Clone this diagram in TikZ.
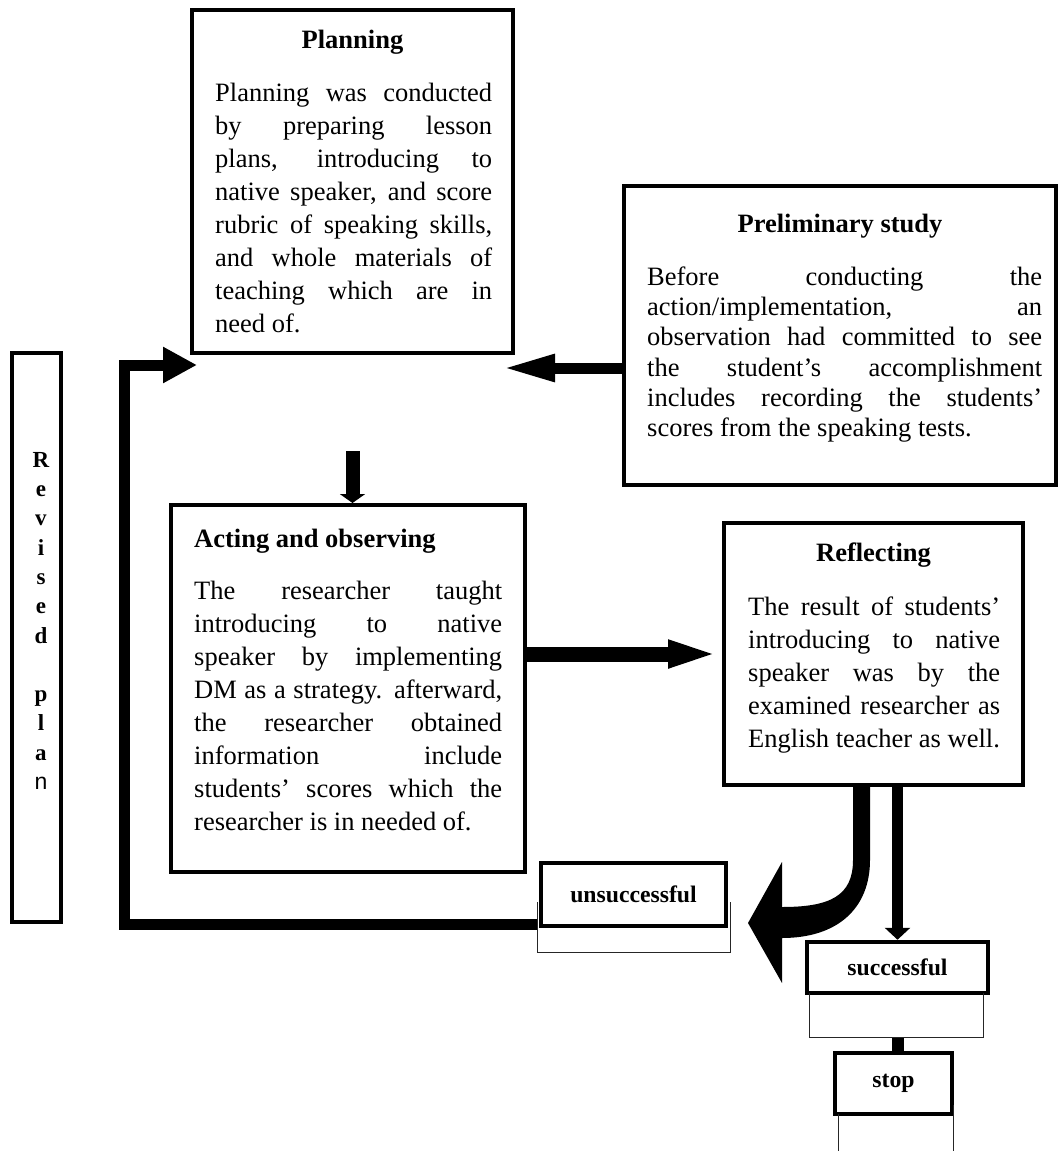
\documentclass[tikz,border=0pt]{standalone}
\usepackage{fontspec}
\setmainfont{Liberation Serif}
\setsansfont{Liberation Sans}
\usetikzlibrary{arrows.meta}
\newcommand\jline[2]{\makebox[#1][s]{\strut #2}}
\begin{document}
\begin{tikzpicture}[x=1pt,y=-1pt,
  stage/.style={draw, line width=4pt, inner sep=0pt, rectangle},
  lblbox/.style={draw, line width=4.5pt, inner sep=0pt, rectangle, font=\bfseries\fontsize{23.7}{28}\selectfont},
  bodytext/.style={inner sep=0pt, anchor=north west, align=left, font=\fontsize{26.5}{33}\selectfont},
  titletext/.style={inner sep=0pt, anchor=base, font=\bfseries\fontsize{26.5}{33}\selectfont},
  flow/.style={line width=#1, line join=miter},
  thinline/.style={line width=1pt, black!85}
]
\useasboundingbox (0,0) rectangle (1058,1151);

% ---------- boxes ----------
\node[stage, minimum width=321pt, minimum height=343pt] (plan) at (352.5,181.5) {};
\node[stage, minimum width=432pt, minimum height=299pt] (prelim) at (840,335.5) {};
\node[stage, minimum width=354pt, minimum height=367pt] (act) at (348,688.5) {};
\node[stage, minimum width=299pt, minimum height=262pt] (refl) at (873.5,654) {};
\node[stage, minimum width=49pt, minimum height=569pt] (revised) at (36.5,637.5) {};

\node[lblbox, minimum width=185pt, minimum height=63pt] (uns) at (633.5,894.5) {unsuccessful};
\node[lblbox, minimum width=181pt, minimum height=51pt] (succ) at (897.5,967.5) {successful};
\node[lblbox, minimum width=117pt, minimum height=61pt] (stop) at (893.5,1083.5) {stop};

% ---------- titles ----------
\node[titletext] (plantitle) at (352.5,48) {Planning};
\node[titletext] (prelimtitle) at (840,232) {Preliminary study};
\node[titletext, anchor=base west] (acttitle) at (194,547) {Acting and observing};
\node[titletext] (refltitle) at (873.5,561) {Reflecting};

% ---------- body texts ----------
\node[bodytext] (planbody) at (215,77.9) {%
\jline{277pt}{Planning was conducted}\\
\jline{277pt}{by preparing lesson}\\
\jline{277pt}{plans, introducing to}\\
\jline{277pt}{native speaker, and score}\\
\jline{277pt}{rubric of speaking skills,}\\
\jline{277pt}{and whole materials of}\\
\jline{277pt}{teaching which are in}\\
\strut need of.};

\node[bodytext, font=\fontsize{26.5}{30.3}\selectfont] (prelimbody) at (647,263.8) {%
\jline{395pt}{Before conducting the}\\
\jline{395pt}{action/implementation, an}\\
\jline{395pt}{observation had committed to see}\\
\jline{395pt}{the student’s accomplishment}\\
\jline{395pt}{includes recording the students’}\\
\strut scores from the speaking tests.};

\node[bodytext] (actbody) at (194,575.9) {%
\jline{308pt}{The researcher taught}\\
\jline{308pt}{introducing to native}\\
\jline{308pt}{speaker by implementing}\\
\jline{308pt}{DM as a strategy. afterward,}\\
\jline{308pt}{the researcher obtained}\\
\jline{308pt}{information include}\\
\jline{308pt}{students’ scores which the}\\
\strut researcher is in needed of.};

\node[bodytext] (reflbody) at (748,591.9) {%
\jline{252pt}{The result of students’}\\
\jline{252pt}{introducing to native}\\
\jline{252pt}{speaker was by the}\\
\jline{252pt}{examined researcher as}\\
\strut English teacher as well.};

% ---------- revised plan ----------
\node[inner sep=0pt, anchor=north, align=center,
      font=\bfseries\fontsize{23}{29.3}\selectfont] (revtext) at (41,446.5) {%
\strut R\\ \strut e\\ \strut v\\ \strut i\\ \strut s\\ \strut e\\ \strut d\\ \strut\\
\strut p\\ \strut l\\ \strut a\\ \strut\textsf{\mdseries n}};

% ---------- coordinates ----------
\coordinate (pastart) at (352.5,451);
\coordinate (prtip) at (502,368);
\coordinate (loopstart) at (537,924);
\coordinate (loopbl) at (124,924);
\coordinate (looptl) at (124,365);
\coordinate (looptip) at (197,365);
\coordinate (succbr) at (898,1037);

% ---------- connectors ----------
\draw[flow=11pt, -{Triangle[length=53pt,width=25pt]}] (prelim.west |- prtip) -- (prtip);
\draw[flow=14pt, -{Triangle[length=9pt,width=25pt]}] (pastart) -- (pastart |- act.north);
\draw[flow=15pt, -{Triangle[length=54pt,width=24pt]}] (act.east |- refl.west) -- (refl.west);
\draw[flow=11pt, -{Triangle[length=12pt,width=25pt]}] (succ.north |- refl.south) -- (succ.north);
\draw[flow=12pt] (succbr) -- (succbr |- stop.north);
\draw[flow=11pt, -{Triangle[length=34pt,width=34pt]}] (loopstart) -- (loopbl) -- (looptl) -- (looptip);

% curved block arrow from Reflecting towards unsuccessful
\fill (853,783) -- (853,860) .. controls (853,896) and (830,907) .. (782,907)
      -- (782,862) -- (748,923) -- (782,983) -- (782,938)
      .. controls (838,938) and (870,908) .. (870,860) -- (870,783) -- cycle;

% ---------- thin brackets ----------
\draw[thinline] (537,902) -- (537,952) -- (730,952) -- (730,902);
\draw[thinline] (809,993) -- (809,1037) -- (983,1037) -- (983,993);
\draw[thinline] (838,1114) -- (838,1151);
\draw[thinline] (953,1105) -- (953,1151);
\end{tikzpicture}
\end{document}
